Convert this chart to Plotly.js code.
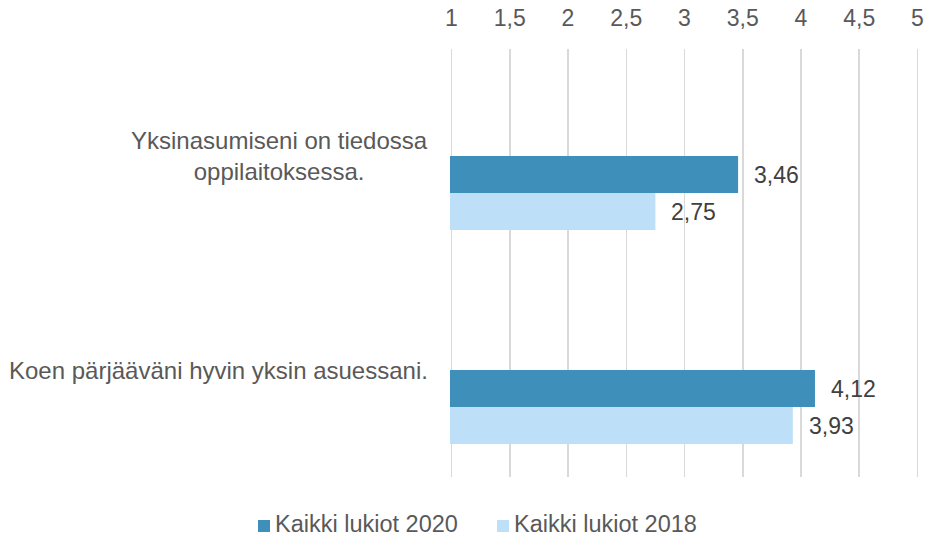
<!DOCTYPE html>
<html>
<head>
<meta charset="utf-8">
<script src="https://cdn.plot.ly/plotly-3.0.1.min.js"></script>
<style>html,body{margin:0;padding:0;background:#fff;}#chart{width:926px;height:537px;}</style>
</head>
<body>
<div id="chart"></div>
<script>
var categories = ["Yksinasumiseni on tiedossa<br>oppilaitoksessa.", "Koen pärjääväni hyvin yksin asuessani."];
var seriesNames = ["Kaikki lukiot 2020", "Kaikki lukiot 2018"];
var values2020 = [3.46, 4.12];
var values2018 = [2.75, 3.93];
var xTicks = [1, 1.5, 2, 2.5, 3, 3.5, 4, 4.5, 5];

var FONT = "Liberation Sans, Arial, sans-serif";
var W = 926, H = 537;
var M = { l: 450, r: 7, t: 49, b: 60 };
var barW = 0.173;
var colors = ["#3f8fbb", "#bddff8"];
var allVals = [values2020, values2018];

function px2x(px) { return (px - M.l) / (W - M.l - M.r); }
function px2y(py) { return (H - M.b - py) / (H - M.t - M.b); }

var traces = allVals.map(function (vals, i) {
  return {
    type: "bar",
    orientation: "h",
    name: seriesNames[i],
    y: categories,
    x: vals,
    width: barW,
    offset: i * barW,
    marker: { color: colors[i], line: { width: 0 } },
    hoverinfo: "x",
    showlegend: false
  };
});

var annotations = [];
var shapes = [];
categories.forEach(function (c, ci) {
  annotations.push({
    xref: "paper", yref: "y", x: 0, y: ci, xshift: -20,
    xanchor: "right", yanchor: "middle", align: "center",
    text: c, showarrow: false,
    font: { family: FONT, size: 24, color: "#595959" }
  });
});
allVals.forEach(function (vals, si) {
  vals.forEach(function (v, ci) {
    annotations.push({
      xref: "x", yref: "y", x: v, y: ci + si * barW + barW / 2,
      xanchor: "left", yanchor: "middle", xshift: 14,
      text: v.toFixed(2).replace(".", ","), showarrow: false,
      font: { family: FONT, size: 23, color: "#404040" }
    });
  });
});

// legend (manual, bottom centre)
var legendX = [258, 497], legendY = 524, sq = 12;
seriesNames.forEach(function (name, i) {
  shapes.push({
    type: "rect", xref: "paper", yref: "paper",
    x0: px2x(legendX[i]), x1: px2x(legendX[i] + sq),
    y0: px2y(legendY + 2 + sq / 2), y1: px2y(legendY + 2 - sq / 2),
    fillcolor: colors[i], line: { width: 0 }
  });
  annotations.push({
    xref: "paper", yref: "paper", x: px2x(legendX[i] + sq + 4), y: px2y(legendY),
    xanchor: "left", yanchor: "middle", showarrow: false, text: name, borderpad: 0,
    font: { family: FONT, size: 23.5, color: "#595959" }
  });
});

var layout = {
  width: W, height: H,
  margin: { l: M.l, r: M.r, t: M.t, b: M.b, pad: 0 },
  paper_bgcolor: "#fff", plot_bgcolor: "#fff",
  separators: ", ",
  barmode: "overlay",
  showlegend: false,
  font: { family: FONT, size: 23, color: "#595959" },
  xaxis: {
    side: "top", range: [0.987, 5.013], tickvals: xTicks,
    showgrid: true, gridcolor: "#d9d9d9", gridwidth: 1.5,
    zeroline: false, showline: false, ticks: "", ticklen: 0,
    ticklabelstandoff: 17,
    tickfont: { family: FONT, size: 23, color: "#595959" }
  },
  yaxis: {
    type: "category", range: [1.5, -0.5], autorange: false,
    showticklabels: false, showgrid: false, zeroline: false, showline: false, ticks: ""
  },
  shapes: shapes,
  annotations: annotations
};

Plotly.newPlot("chart", traces, layout, { displayModeBar: false, staticPlot: true });
</script>
</body>
</html>
